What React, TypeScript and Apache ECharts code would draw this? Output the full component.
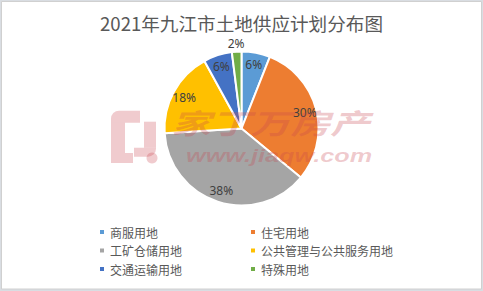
import React, { useEffect, useRef } from "react";
import * as echarts from "echarts";

const titleText = "2021年九江市土地供应计划分布图";
const categories = ["商服用地", "住宅用地", "工矿仓储用地", "公共管理与公共服务用地", "交通运输用地", "特殊用地"];
const values = [6, 30, 38, 18, 6, 2];
const colors = ["#5B9BD5", "#ED7D31", "#A5A5A5", "#FFC000", "#4472C4", "#70AD47"];
const legendLeftCol = [categories[0], categories[2], categories[4]];
const legendRightCol = [categories[1], categories[3], categories[5]];
const watermarkText = "家丁万房产";
const watermarkUrl = "www.jiaqw.com";

const CJK = "'Noto Sans CJK SC', 'Noto Sans', sans-serif";
const CX = 241.5;
const CY = 128.5;
const R = 77;
const WM = "rgba(200,70,80,0.28)";

export default function App() {
  const ref = useRef<HTMLDivElement>(null);
  useEffect(() => {
    if (!ref.current) return;
    const chart = echarts.init(ref.current, undefined, { renderer: "svg" });
    const mainData = categories.map((n, i) => ({ name: n, value: values[i], itemStyle: { color: colors[i] } }));
    const labelData = categories.map((n, i) => ({ name: n, value: values[i] }));
    const outerLabelData = categories.map((n, i) => ({
      name: n,
      value: values[i],
      label: { show: i === categories.length - 1 },
    }));
    const legendCommon = {
      orient: "vertical" as const,
      top: 226,
      padding: 0,
      itemWidth: 6,
      itemHeight: 6,
      itemGap: 6.5,
      icon: "rect",
      selectedMode: false,
      textStyle: { fontSize: 12, color: "#595959", fontFamily: CJK, lineHeight: 12 },
    };
    chart.setOption({
      animation: false,
      backgroundColor: "#d9dde2",
      title: {
        text: titleText,
        left: "center",
        top: 10,
        padding: 0,
        textStyle: { fontSize: 18.6, fontWeight: "normal", color: "#595959", fontFamily: CJK, lineHeight: 24 },
      },
      legend: [
        { ...legendCommon, left: 98, data: legendLeftCol },
        { ...legendCommon, left: 249, data: legendRightCol },
      ],
      graphic: [
        {
          type: "rect",
          z: -10,
          shape: { x: 1.5, y: 1.5, width: 480, height: 287.5 },
          style: { fill: "#ffffff", stroke: "#d0d0d0", lineWidth: 1 },
          silent: true,
        },
        { type: "rect", z: 100, silent: true, shape: { x: 111, y: 110.7, width: 29, height: 12, r: [8, 0, 0, 0] }, style: { fill: WM } },
        { type: "rect", z: 100, silent: true, shape: { x: 111, y: 122.7, width: 14, height: 30.3 }, style: { fill: WM } },
        { type: "rect", z: 100, silent: true, shape: { x: 111, y: 153, width: 22, height: 10 }, style: { fill: WM } },
        { type: "rect", z: 100, silent: true, shape: { x: 144, y: 121.7, width: 12, height: 26 }, style: { fill: WM } },
        { type: "rect", z: 100, silent: true, shape: { x: 134, y: 147.7, width: 22, height: 9, r: [0, 0, 8, 0] }, style: { fill: WM } },
        { type: "circle", z: 100, silent: true, shape: { cx: 152, cy: 158, r: 5.5 }, style: { fill: WM } },
        {
          type: "text",
          z: 100,
          silent: true,
          x: 171,
          y: 108,
          scaleX: 1.42,
          style: {
            text: watermarkText,
            font: "italic bold 28px 'Noto Sans CJK SC'",
            fill: WM,
            textAlign: "left",
            textVerticalAlign: "top",
          },
        },
        {
          type: "text",
          z: 100,
          silent: true,
          x: 186,
          y: 146,
          scaleX: 1.33,
          style: {
            text: watermarkUrl,
            font: "italic bold 19px 'Liberation Sans'",
            fill: WM,
            textAlign: "left",
            textVerticalAlign: "top",
          },
        },
      ],
      series: [
        {
          type: "pie",
          center: [CX, CY],
          radius: [0, R],
          startAngle: 90,
          clockwise: true,
          silent: true,
          label: { show: false },
          labelLine: { show: false },
          itemStyle: { borderColor: "#ffffff", borderWidth: 2 },
          emphasis: { disabled: true },
          data: mainData,
        },
        {
          type: "pie",
          center: [CX, CY],
          radius: [R * 0.62, R],
          startAngle: 90,
          clockwise: true,
          silent: true,
          legendHoverLink: false,
          itemStyle: { color: "transparent", borderWidth: 0 },
          label: {
            show: true,
            position: "inside",
            formatter: "{c}%",
            fontSize: 12,
            color: "#404040",
            fontFamily: "'Noto Sans', sans-serif",
          },
          labelLine: { show: false },
          emphasis: { disabled: true },
          data: labelData.map((d, i) => ({ ...d, label: { show: i !== categories.length - 1 } })),
        },
        {
          type: "pie",
          center: [CX, CY],
          radius: [R, R + 9.6],
          startAngle: 90,
          clockwise: true,
          silent: true,
          legendHoverLink: false,
          itemStyle: { color: "transparent", borderWidth: 0 },
          label: {
            position: "inside",
            formatter: "{c}%",
            fontSize: 12,
            color: "#404040",
            fontFamily: "'Noto Sans', sans-serif",
          },
          labelLine: { show: false },
          emphasis: { disabled: true },
          data: outerLabelData,
        },
      ],
    });
    return () => chart.dispose();
  }, []);
  return <div ref={ref} style={{ position: "absolute", left: 0, top: 0, width: 483, height: 291 }} />;
}
